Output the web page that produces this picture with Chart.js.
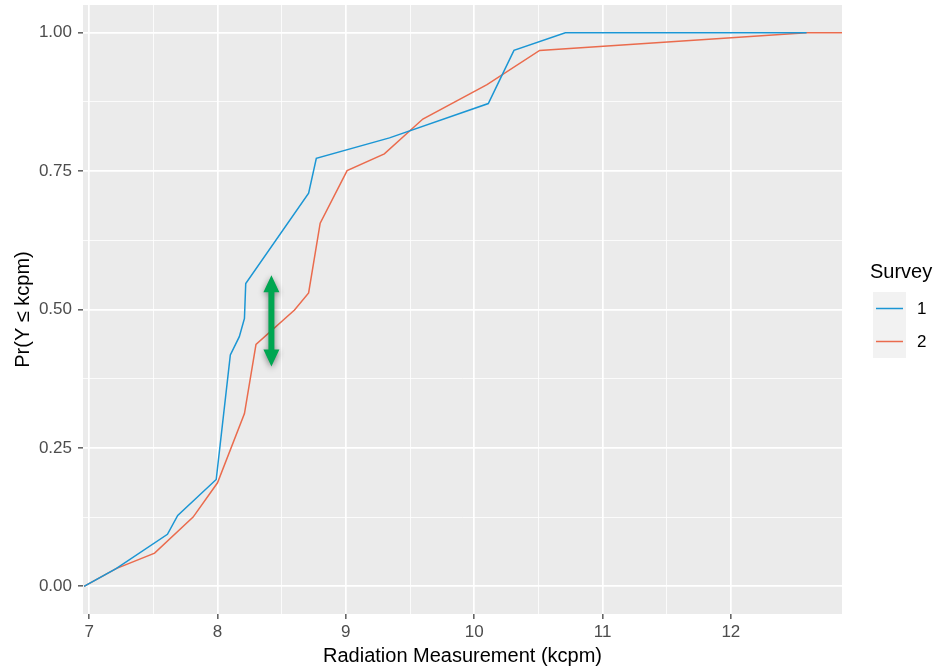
<!DOCTYPE html>
<html>
<head>
<meta charset="utf-8">
<script src="https://cdn.jsdelivr.net/npm/chart.js@4"></script>
<style>
    html, body { margin: 0; padding: 0; background: #ffffff; }
    #chart { display: block; }
</style>
</head>
<body>
<canvas id="chart" width="936" height="667"></canvas>
<script>
// Survey 1 (cumulative proportions)
const survey1X = [6.96, 7.21, 7.61, 7.69, 7.99, 8.10, 8.17, 8.21, 8.22, 8.71, 8.77, 9.34, 10.11, 10.31, 10.71, 12.59];
const survey1Y = [0, 0.032, 0.094, 0.128, 0.193, 0.418, 0.451, 0.484, 0.547, 0.710, 0.773, 0.810, 0.872, 0.968, 1.0, 1.0];

// Survey 2
const survey2X = [6.96, 7.21, 7.51, 7.81, 8.00, 8.21, 8.30, 8.60, 8.71, 8.80, 9.01, 9.30, 9.60, 10.10, 10.51, 12.59, 12.87];
const survey2Y = [0, 0.032, 0.060, 0.125, 0.187, 0.312, 0.437, 0.499, 0.530, 0.656, 0.751, 0.781, 0.844, 0.906, 0.968, 1.0, 1.0];

const surveyNames = ['1', '2'];
const surveyColors = ['#1b96d4', '#ea6b4d'];

const xTicks = [7, 8, 9, 10, 11, 12];
const yTicks = [0, 0.25, 0.5, 0.75, 1];

// green double arrow marking the gap between the two curves
const arrowX = 8.42;
const arrowY = [0.397, 0.562];

const FONT = '"Liberation Sans", Arial, sans-serif';

function withMinor(majors) {
    const out = [];
    majors.forEach((v, i) => {
        out.push(v);
        if (i < majors.length - 1) out.push((v + majors[i + 1]) / 2);
    });
    return out;
}

function toPoints(xs, ys) {
    return xs.map((x, i) => ({ x: x, y: ys[i] }));
}

const panelBackground = {
    id: 'panelBackground',
    beforeDraw(chart) {
        const { ctx, chartArea } = chart;
        ctx.save();
        ctx.fillStyle = '#ebebeb';
        ctx.fillRect(chartArea.left, chartArea.top, chartArea.right - chartArea.left, chartArea.bottom - chartArea.top);
        ctx.restore();
    }
};

const gapArrow = {
    id: 'gapArrow',
    afterDatasetsDraw(chart) {
        const { ctx, scales } = chart;
        const cx = scales.x.getPixelForValue(arrowX);
        const yTop = scales.y.getPixelForValue(arrowY[1]);
        const yBot = scales.y.getPixelForValue(arrowY[0]);
        const hw = 8, hh = 17, sw = 3;
        ctx.save();
        ctx.shadowColor = 'rgba(0,0,0,0.45)';
        ctx.shadowBlur = 6;
        ctx.shadowOffsetX = 0;
        ctx.shadowOffsetY = 2;
        ctx.fillStyle = '#00a651';
        ctx.beginPath();
        ctx.moveTo(cx, yTop);
        ctx.lineTo(cx + hw, yTop + hh);
        ctx.lineTo(cx + sw, yTop + hh);
        ctx.lineTo(cx + sw, yBot - hh);
        ctx.lineTo(cx + hw, yBot - hh);
        ctx.lineTo(cx, yBot);
        ctx.lineTo(cx - hw, yBot - hh);
        ctx.lineTo(cx - sw, yBot - hh);
        ctx.lineTo(cx - sw, yTop + hh);
        ctx.lineTo(cx - hw, yTop + hh);
        ctx.closePath();
        ctx.fill();
        ctx.restore();
    }
};

const surveyLegend = {
    id: 'surveyLegend',
    afterDraw(chart) {
        const { ctx } = chart;
        const left = 873, top = 292, keyW = 33, keyH = 33;
        ctx.save();
        ctx.fillStyle = '#000000';
        ctx.font = '20px ' + FONT;
        ctx.textAlign = 'left';
        ctx.textBaseline = 'middle';
        ctx.fillText('Survey', 870, 272);
        chart.data.datasets.forEach((ds, i) => {
            const y = top + i * keyH;
            ctx.fillStyle = '#f2f2f2';
            ctx.fillRect(left, y, keyW, keyH);
            ctx.strokeStyle = ds.borderColor;
            ctx.lineWidth = 1.5;
            ctx.beginPath();
            ctx.moveTo(left + 3, y + keyH / 2);
            ctx.lineTo(left + keyW - 3, y + keyH / 2);
            ctx.stroke();
            ctx.fillStyle = '#000000';
            ctx.font = '17px ' + FONT;
            ctx.fillText(ds.label, 917, y + keyH / 2 + 1);
        });
        ctx.restore();
    }
};

function gridWidth(majors) {
    return (c) => (c.tick && majors.includes(c.tick.value)) ? 1.7 : 0.8;
}
function tickColor(majors) {
    return (c) => (c.tick && majors.includes(c.tick.value)) ? '#333333' : 'rgba(0,0,0,0)';
}

const ctx = document.getElementById('chart').getContext('2d');
new Chart(ctx, {
    type: 'line',
    data: {
        datasets: [0, 1].map(i => ({
            label: surveyNames[i],
            data: toPoints(i === 0 ? survey1X : survey2X, i === 0 ? survey1Y : survey2Y),
            borderColor: surveyColors[i],
            borderWidth: 1.5,
            pointRadius: 0,
            tension: 0,
            fill: false
        }))
    },
    options: {
        responsive: false,
        devicePixelRatio: 1,
        animation: false,
        layout: {
            padding: { top: 5, right: 94, left: 0, bottom: 0 }
        },
        plugins: {
            legend: { display: false },
            tooltip: { enabled: false }
        },
        scales: {
            x: {
                type: 'linear',
                min: 6.952,
                max: 12.866,
                afterBuildTicks: (scale) => {
                    scale.ticks = withMinor(xTicks).map(v => ({ value: v }));
                },
                afterFit: (scale) => {
                    scale.height = 53;
                    scale.paddingLeft = 0;
                    scale.paddingRight = 0;
                },
                border: { display: false },
                grid: {
                    color: '#ffffff',
                    lineWidth: gridWidth(xTicks),
                    tickColor: tickColor(xTicks),
                    tickLength: 5,
                    tickWidth: 1.2
                },
                ticks: {
                    autoSkip: false,
                    maxRotation: 0,
                    padding: 3,
                    color: '#4d4d4d',
                    font: { family: FONT, size: 17 },
                    callback: (v) => xTicks.includes(v) ? String(v) : ''
                },
                title: {
                    display: true,
                    text: 'Radiation Measurement (kcpm)',
                    color: '#000000',
                    font: { family: FONT, size: 20, lineHeight: 1.1 },
                    padding: { top: 0, bottom: 0 }
                }
            },
            y: {
                type: 'linear',
                min: -0.05,
                max: 1.05,
                afterBuildTicks: (scale) => {
                    scale.ticks = withMinor(yTicks).map(v => ({ value: v }));
                },
                afterFit: (scale) => {
                    scale.width = 83;
                    scale.paddingTop = 0;
                    scale.paddingBottom = 0;
                },
                border: { display: false },
                grid: {
                    color: '#ffffff',
                    lineWidth: gridWidth(yTicks),
                    tickColor: tickColor(yTicks),
                    tickLength: 5,
                    tickWidth: 1.2
                },
                ticks: {
                    autoSkip: false,
                    padding: 6,
                    color: '#4d4d4d',
                    font: { family: FONT, size: 17 },
                    callback: (v) => yTicks.includes(v) ? v.toFixed(2) : ''
                },
                title: {
                    display: true,
                    text: 'Pr(Y \u2264 kcpm)',
                    color: '#000000',
                    font: { family: FONT, size: 20 },
                    padding: { top: 11, bottom: 0 }
                }
            }
        }
    },
    plugins: [panelBackground, gapArrow, surveyLegend]
});
</script>
</body>
</html>
